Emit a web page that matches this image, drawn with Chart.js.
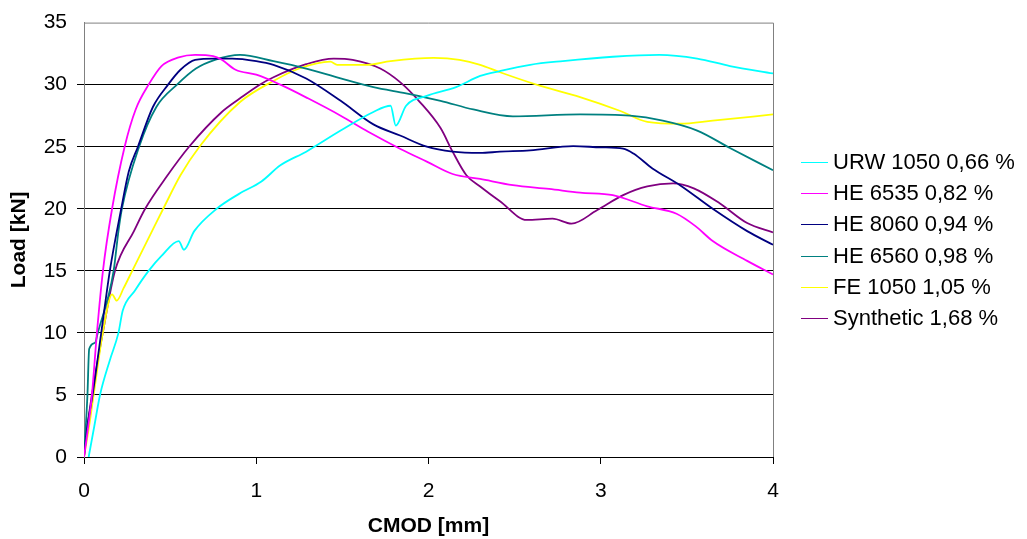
<!DOCTYPE html>
<html lang="en">
<head>
  <meta charset="UTF-8">
  <title>Load vs CMOD</title>
  <style>
    html, body { margin: 0; padding: 0; background: #fff; }
    #chartContainer { width: 1027px; height: 539px; }
  </style>
</head>
<body>
  <div id="chartContainer">
    <canvas id="myChart" width="1027" height="539"></canvas>
  </div>

  <script src="https://cdn.jsdelivr.net/npm/chart.js@4.4.2/dist/chart.umd.min.js"></script>
  <script>
    // series names, as in the legend
    const seriesNames = ['URW 1050 0,66 %', 'HE 6535 0,82 %', 'HE 8060 0,94 %', 'HE 6560 0,98 %', 'FE 1050 1,05 %', 'Synthetic 1,68 %'];
    const seriesColors = ['#00ffff', '#ff00ff', '#000080', '#008080', '#ffff00', '#800080'];

    // values: CMOD [mm] and Load [kN]
    const urwCmod = [0.027, 0.06, 0.093, 0.15, 0.20, 0.225, 0.295, 0.375, 0.45, 0.55, 0.58, 0.64, 0.77, 0.9, 1.03, 1.14, 1.29, 1.49, 1.68, 1.78, 1.81, 1.87, 1.99, 2.16, 2.3, 2.415, 2.59, 2.78, 3.07, 3.34, 3.56, 3.75, 4.0];
    const urwLoad = [0, 2.5, 5, 7.8, 10, 11.8, 13.4, 15, 16.2, 17.4, 16.7, 18.2, 20, 21.2, 22.2, 23.5, 24.6, 26.3, 27.8, 28.3, 26.7, 28.3, 29.1, 29.8, 30.7, 31.1, 31.6, 31.9, 32.25, 32.4, 32.1, 31.5, 30.9];

    const he6535Cmod = [0, 0.02, 0.046, 0.075, 0.11, 0.163, 0.236, 0.3, 0.375, 0.45, 0.55, 0.645, 0.75, 0.8, 0.88, 1.0, 1.14, 1.3, 1.49, 1.65, 1.84, 1.99, 2.14, 2.3, 2.49, 2.7, 2.88, 3.07, 3.27, 3.44, 3.55, 3.65, 3.85, 4.0];
    const he6535Load = [0, 2, 5, 10, 15, 20, 25, 28, 30, 31.5, 32.2, 32.4, 32.3, 32.0, 31.2, 30.8, 30.0, 28.9, 27.5, 26.2, 24.8, 23.8, 22.8, 22.4, 21.9, 21.6, 21.3, 21.1, 20.2, 19.6, 18.6, 17.4, 15.8, 14.7];

    const he8060Cmod = [0, 0.02, 0.05, 0.1, 0.15, 0.216, 0.26, 0.313, 0.4, 0.488, 0.56, 0.645, 0.76, 0.86, 1.0, 1.1, 1.29, 1.49, 1.68, 1.835, 1.99, 2.14, 2.3, 2.415, 2.59, 2.84, 3.0, 3.13, 3.19, 3.3, 3.46, 3.65, 3.85, 4.0];
    const he8060Load = [0, 2.5, 5, 10, 15, 20, 23, 25, 28.2, 30, 31.2, 32.0, 32.1, 32.1, 31.9, 31.6, 30.5, 28.7, 26.8, 25.9, 25.0, 24.6, 24.5, 24.6, 24.7, 25.05, 24.95, 24.85, 24.45, 23.25, 21.9, 20.0, 18.2, 17.1];

    const he6560Cmod = [0, 0.02, 0.03, 0.064, 0.08, 0.172, 0.2, 0.22, 0.32, 0.42, 0.54, 0.65, 0.76, 0.906, 1.1, 1.29, 1.49, 1.68, 1.87, 2.07, 2.26, 2.49, 2.88, 3.17, 3.36, 3.56, 3.75, 4.0];
    const he6560Load = [0, 5, 8.7, 9.2, 10, 15, 18.2, 20, 25, 28.2, 30, 31.3, 32.0, 32.4, 31.9, 31.3, 30.5, 29.8, 29.3, 28.7, 28.0, 27.45, 27.6, 27.5, 27.1, 26.3, 24.9, 23.1];

    const fe1050Cmod = [0, 0.03, 0.056, 0.109, 0.163, 0.19, 0.23, 0.28, 0.395, 0.46, 0.56, 0.67, 0.906, 1.1, 1.25, 1.43, 1.47, 1.64, 1.78, 2.03, 2.18, 2.3, 2.415, 2.65, 2.88, 3.11, 3.27, 3.46, 3.65, 4.0];
    const fe1050Load = [0, 2.5, 5, 10, 13.1, 12.6, 13.6, 15, 18.2, 20, 22.7, 25, 28.6, 30.3, 31.3, 31.85, 31.6, 31.6, 31.9, 32.15, 32.0, 31.6, 31.0, 29.9, 29.0, 27.9, 27.0, 26.85, 27.1, 27.6];

    const syntheticCmod = [0, 0.02, 0.046, 0.109, 0.18, 0.29, 0.355, 0.48, 0.61, 0.8, 0.906, 1.02, 1.1, 1.29, 1.45, 1.56, 1.72, 1.835, 1.95, 2.07, 2.14, 2.22, 2.3, 2.415, 2.57, 2.72, 2.83, 2.98, 3.13, 3.27, 3.42, 3.54, 3.69, 3.85, 4.0];
    const syntheticLoad = [0, 2.5, 5, 10, 15, 18.2, 20, 22.6, 25, 27.8, 28.9, 30, 30.6, 31.65, 32.1, 32.0, 31.3, 30.2, 28.6, 26.5, 24.6, 22.7, 21.8, 20.6, 19.1, 19.2, 18.8, 19.9, 21.1, 21.8, 22.05, 21.65, 20.45, 18.85, 18.1];

    // axis ticks
    const xTicks = [0, 1, 2, 3, 4];
    const yTicks = [0, 5, 10, 15, 20, 25, 30, 35];

    const seriesCmod = [urwCmod, he6535Cmod, he8060Cmod, he6560Cmod, fe1050Cmod, syntheticCmod];
    const seriesLoad = [urwLoad, he6535Load, he8060Load, he6560Load, fe1050Load, syntheticLoad];

    const FONT = '"Liberation Sans", Arial, sans-serif';

    const datasets = seriesNames.map((name, i) => ({
      label: name,
      data: seriesCmod[i].map((x, j) => ({ x: x, y: seriesLoad[i][j] })),
      borderColor: seriesColors[i],
      backgroundColor: seriesColors[i],
      borderWidth: 1.8,
      pointRadius: 0,
      fill: false,
      cubicInterpolationMode: 'monotone'
    }));

    // legend drawn to the right of the plot, plus the gray frame edge
    const sideLegend = {
      id: 'sideLegend',
      afterDraw(chart) {
        const c = chart.ctx;
        const a = chart.chartArea;
        c.save();
        c.strokeStyle = '#808080';
        c.lineWidth = 1;
        c.beginPath();
        c.moveTo(a.left, a.top + 0.5);
        c.lineTo(a.right + 0.5, a.top + 0.5);
        c.lineTo(a.right + 0.5, a.bottom);
        c.stroke();

        c.font = '22px ' + FONT;
        c.textBaseline = 'middle';
        c.fillStyle = '#000';
        chart.data.datasets.forEach((ds, i) => {
          const y = 162 + i * 31.2;
          c.strokeStyle = ds.borderColor;
          c.lineWidth = 1;
          c.beginPath();
          c.moveTo(801, Math.round(y) + 0.5);
          c.lineTo(828, Math.round(y) + 0.5);
          c.stroke();
          c.fillText(ds.label, 833, y + 1);
        });
        c.restore();
      }
    };

    const ctx = document.getElementById('myChart').getContext('2d');
    const chart = new Chart(ctx, {
      type: 'line',
      data: { datasets: datasets },
      options: {
        responsive: false,
        animation: false,
        devicePixelRatio: 1,
        layout: { padding: { top: 20, right: 254, left: 0, bottom: 0 } },
        scales: {
          x: {
            type: 'linear',
            min: 0,
            max: 4,
            afterBuildTicks: s => { s.ticks = xTicks.map(v => ({ value: v })); },
            afterFit: s => { s.height = 82; },
            grid: { drawOnChartArea: false, color: '#000', tickLength: 7 },
            border: { color: '#000', width: 1 },
            ticks: { color: '#000', font: { family: FONT, size: 21 }, padding: 15 },
            title: { display: true, text: 'CMOD [mm]', color: '#000', font: { family: FONT, size: 21, weight: 'bold' }, padding: { top: 0, bottom: 0 } }
          },
          y: {
            min: 0,
            max: 35,
            afterBuildTicks: s => { s.ticks = yTicks.map(v => ({ value: v })); },
            afterFit: s => { s.width = 84; },
            grid: {
              color: c => (c.tick && c.tick.value === 35) ? 'rgba(0,0,0,0)' : '#000',
              lineWidth: 1,
              tickLength: 7
            },
            border: { color: '#808080', width: 1 },
            ticks: { color: '#000', font: { family: FONT, size: 21 }, padding: 10 },
            title: { display: true, text: 'Load [kN]', color: '#000', font: { family: FONT, size: 21, weight: 'bold' }, padding: { top: 7, bottom: 0 } }
          }
        },
        plugins: {
          legend: { display: false },
          tooltip: { enabled: false }
        }
      },
      plugins: [sideLegend]
    });
  </script>
</body>
</html>
